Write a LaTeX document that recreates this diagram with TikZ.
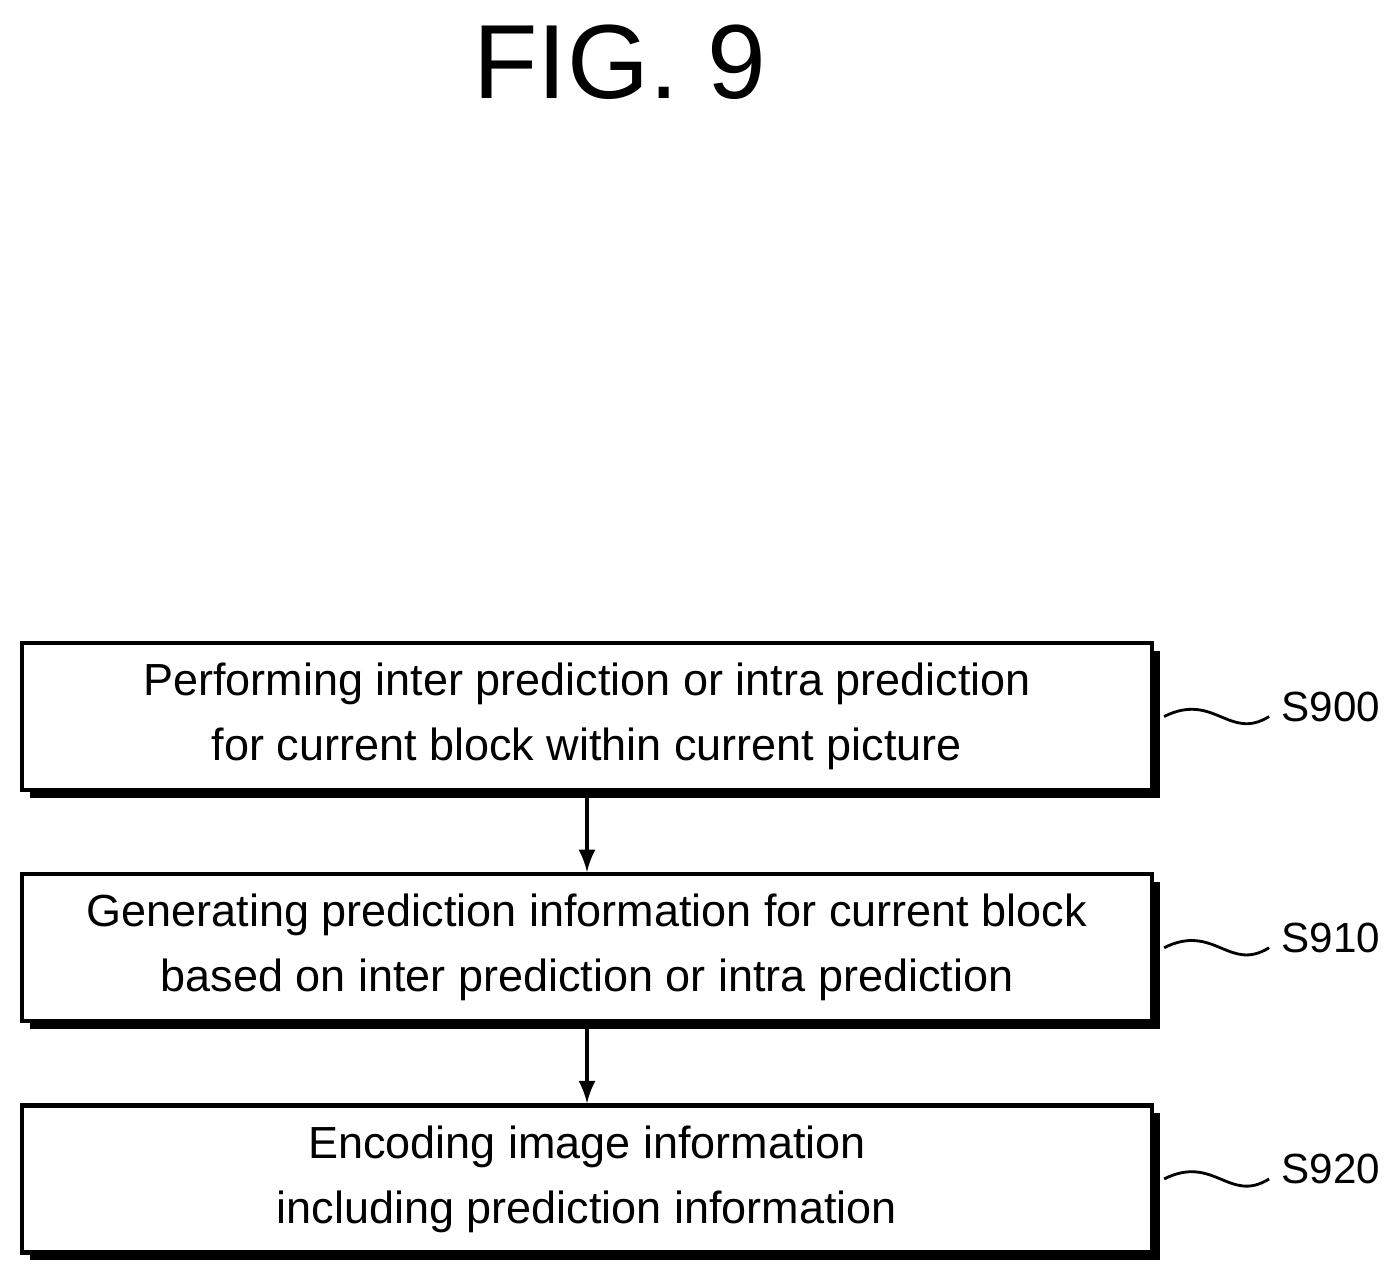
\documentclass[tikz,border=0pt]{standalone}
\usepackage{fontspec}
\setmainfont{Liberation Sans}
\usetikzlibrary{positioning}
\tikzset{
  stepbox/.style={draw, line width=1.2pt, fill=white, minimum width=11.3cm, minimum height=1.47cm,
    align=center, font=\fontsize{12.8}{18.5}\selectfont,
    preaction={fill=black, transform canvas={xshift=2.2pt, yshift=-2.2pt}}},
  flow/.style={-latex, line width=1.2pt},
  tag/.style={font=\fontsize{12}{15}\selectfont, anchor=west}
}
\begin{document}
\begin{tikzpicture}
  \useasboundingbox (0,0) rectangle (13.93,-12.75);
  \node[font=\fontsize{30}{34}\selectfont] (title) at (6.2,-0.62) {FIG. 9};

  % Steps
  \node[stepbox] (s900) at (5.87,-7.165) {Performing inter prediction or intra prediction\\for current block within current picture};
  \node[stepbox, below=0.8cm of s900] (s910) {Generating prediction information for current block\\based on inter prediction or intra prediction};
  \node[stepbox, below=0.8cm of s910] (s920) {Encoding image information\\including prediction information};
  \draw[flow] (s900) -- (s910);
  \draw[flow] (s910) -- (s920);

  % Labels
  \foreach \s/\t in {s900/S900, s910/S910, s920/S920} {
    \node[tag] (l\s) at ([xshift=1.15cm,yshift=0.1cm]\s.east) {\t};
    \draw[line width=0.8pt] ([xshift=0.1cm]\s.east) .. controls ([xshift=0.6cm,yshift=0.25cm]\s.east) and ([xshift=0.75cm,yshift=-0.25cm]\s.east) .. ([yshift=-0.1cm]l\s.west);
  }
\end{tikzpicture}
\end{document}
